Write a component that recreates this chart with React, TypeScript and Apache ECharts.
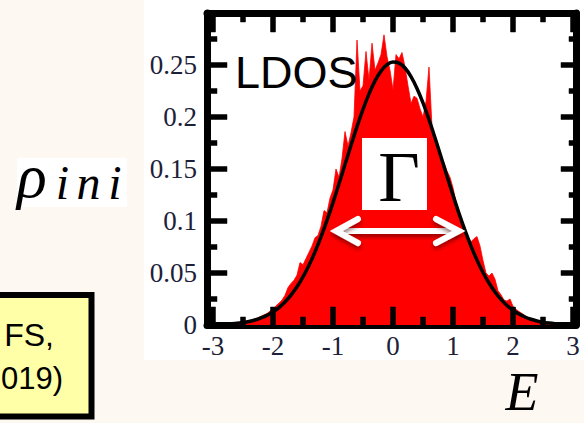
import React, { useEffect, useRef } from "react";
import * as echarts from "echarts";

const RED_E0 = -3;
const RED_STEP = 0.05;
const LDOS_VALUES = [
  0.0003, 0.0004, 0.0006, 0.0005, 0.0008, 0.001, 0.0012, 0.0011, 0.0018, 0.0024,
  0.0028, 0.0035, 0.0042, 0.005, 0.0058, 0.007, 0.0083, 0.0098, 0.011, 0.0135,
  0.015, 0.0185, 0.021, 0.024, 0.0285, 0.036, 0.04, 0.043, 0.048, 0.06,
  0.058, 0.064, 0.07, 0.076, 0.084, 0.086, 0.095, 0.11, 0.108, 0.122,
  0.13, 0.15, 0.142, 0.16, 0.186, 0.172, 0.185, 0.2, 0.274, 0.225,
  0.23, 0.263, 0.235, 0.271, 0.245, 0.252, 0.26, 0.279, 0.258, 0.245,
  0.226, 0.26, 0.256, 0.262, 0.248, 0.23, 0.213, 0.22, 0.218, 0.208,
  0.2, 0.215, 0.248, 0.19, 0.179, 0.172, 0.16, 0.156, 0.148, 0.142,
  0.132, 0.118, 0.108, 0.1, 0.093, 0.085, 0.08, 0.083, 0.085, 0.076,
  0.062, 0.05, 0.047, 0.05, 0.044, 0.033, 0.029, 0.024, 0.023, 0.025,
  0.018, 0.015, 0.013, 0.011, 0.009, 0.007, 0.006, 0.005, 0.004, 0.003,
  0.0025, 0.002, 0.0016, 0.0012, 0.001, 0.0008, 0.0007, 0.0005, 0.0004, 0.0003,
  0.0002,
];

const FIT_E0 = -3;
const FIT_STEP = 0.1;
const FIT_VALUES = [
  0.0003, 0.0005, 0.0007, 0.0011, 0.0016, 0.0024, 0.0034, 0.0048, 0.0068, 0.0093,
  0.0126, 0.0168, 0.0221, 0.0287, 0.0367, 0.0463, 0.0574, 0.0703, 0.0847, 0.1006,
  0.1177, 0.1358, 0.1543, 0.1728, 0.1907, 0.2074, 0.2222, 0.2347, 0.2441, 0.2503,
  0.2529, 0.2518, 0.2471, 0.2388, 0.2275, 0.2136, 0.1975, 0.1801, 0.1617, 0.1431,
  0.1249, 0.1073, 0.0909, 0.0758, 0.0624, 0.0505, 0.0404, 0.0318, 0.0246, 0.0188,
  0.0142, 0.0105, 0.0077, 0.0055, 0.0039, 0.0027, 0.0019, 0.0013, 0.0009, 0.0006,
  0.0004,
];

const X_MAJOR = [-3, -2, -1, 0, 1, 2, 3];
const X_MINOR = [-2.5, -1.5, -0.5, 0.5, 1.5, 2.5];
const Y_MAJOR = [0.05, 0.1, 0.15, 0.2, 0.25];
const Y_MINOR = [0.025, 0.075, 0.125, 0.175, 0.225, 0.275];
const Y_LABELS = ["0", "0.05", "0.1", "0.15", "0.2", "0.25"];

const X_MIN = -3.1;
const X_MAX = 3.05;
const Y_MIN = 0;
const Y_MAX = 0.3;

const LABEL_COLOR = "#1c2138";
const SERIF = "Liberation Serif";
const SANS = "Liberation Sans";

export default function App() {
  const ref = useRef<HTMLDivElement>(null);

  useEffect(() => {
    if (!ref.current) return;
    const chart = echarts.init(ref.current, null, { renderer: "svg" });

    const redData = LDOS_VALUES.map((v, i) => [+(RED_E0 + i * RED_STEP).toFixed(2), v]);
    const fitData = FIT_VALUES.map((v, i) => [+(FIT_E0 + i * FIT_STEP).toFixed(2), v]);

    const frameLine = { show: true, onZero: false, lineStyle: { color: "#000", width: 7 } };

    const xAxisBase = (position: "top" | "bottom", showLabel: boolean) => ({
      type: "value",
      position,
      min: X_MIN,
      max: X_MAX,
      axisLine: frameLine,
      axisTick: { show: false },
      axisLabel: showLabel
        ? {
            show: true,
            customValues: X_MAJOR,
            margin: 7,
            fontFamily: SERIF,
            fontSize: 27,
            color: LABEL_COLOR,
            formatter: (v: number) => String(v),
          }
        : { show: false },
      splitLine: { show: false },
    });

    const yAxisBase = (position: "left" | "right", showLabel: boolean) => ({
      type: "value",
      position,
      min: Y_MIN,
      max: Y_MAX,
      interval: 0.05,
      axisLine: frameLine,
      axisTick: { show: false },
      minorTick: { show: false },
      axisLabel: showLabel
        ? {
            show: true,
            margin: 10,
            fontFamily: SERIF,
            fontSize: 27,
            color: LABEL_COLOR,
            formatter: (v: number) => {
              const idx = Math.round(v / 0.05);
              return idx < Y_LABELS.length ? Y_LABELS[idx] : "";
            },
          }
        : { show: false },
      splitLine: { show: false },
      minorSplitLine: { show: false },
    });

    const arrowStyle = {
      stroke: "#ffffff",
      lineWidth: 6,
      lineCap: "round",
      lineJoin: "miter",
      fill: null,
      shadowColor: "rgba(60,0,0,0.55)",
      shadowBlur: 4,
      shadowOffsetY: 3,
    };

    const iStyle = {
      fontFamily: SERIF,
      fontStyle: "italic",
      fontSize: 48,
      fill: "#000",
      align: "center",
      padding: [12, 0, 0, 0],
    };

    const baseGraphic: any[] = [
      {
        type: "rect",
        z: 100,
        shape: { x: -10, y: 295, width: 101.5, height: 121.5 },
        style: { fill: "#ffffa8", stroke: "#000", lineWidth: 6 },
      },
      {
        type: "text",
        z: 101,
        x: 54,
        y: 335,
        style: { text: "FS,", fontFamily: SANS, fontSize: 32, fill: "#000", align: "right", verticalAlign: "middle" },
      },
      {
        type: "text",
        z: 101,
        x: 63,
        y: 378,
        style: { text: "019)", fontFamily: SANS, fontSize: 31, fill: "#000", align: "right", verticalAlign: "middle" },
      },
      {
        type: "rect",
        z: 100,
        shape: { x: 17, y: 158, width: 110, height: 49 },
        style: { fill: "#ffffff" },
      },
      {
        type: "text",
        z: 101,
        x: 17,
        y: 176,
        style: {
          text: "{r|ρ}{s|i}{n|n}{t|i}",
          verticalAlign: "middle",
          fill: "#000",
          rich: {
            r: { fontFamily: SERIF, fontStyle: "italic", fontSize: 62, fill: "#000", width: 36 },
            s: { ...iStyle, width: 19 },
            n: { ...iStyle, width: 33 },
            t: { ...iStyle, width: 20 },
          },
        },
      },
      {
        type: "text",
        z: 101,
        x: 235,
        y: 72,
        style: { text: "LDOS", fontFamily: SANS, fontSize: 45, fill: "#000", align: "left", verticalAlign: "middle" },
      },
      {
        type: "rect",
        z: 100,
        shape: { x: 362, y: 138, width: 65, height: 72 },
        style: { fill: "#ffffff" },
      },
      {
        type: "text",
        z: 101,
        x: 399,
        y: 177,
        style: { text: "Γ", fontFamily: SERIF, fontSize: 72, fill: "#000", align: "center", verticalAlign: "middle" },
      },
      {
        type: "rect",
        z: 100,
        shape: { x: 338, y: 228, width: 120, height: 6 },
        style: { fill: "#ffffff", shadowColor: "rgba(60,0,0,0.55)", shadowBlur: 4, shadowOffsetY: 3 },
      },
      { type: "polyline", z: 100, shape: { points: [[358, 219], [336, 231], [358, 243]] }, style: arrowStyle },
      { type: "polyline", z: 100, shape: { points: [[436, 219], [459, 231], [436, 243]] }, style: arrowStyle },
      {
        type: "text",
        z: 101,
        x: 522,
        y: 392,
        style: {
          text: "E",
          fontFamily: SERIF,
          fontStyle: "italic",
          fontSize: 54,
          fill: "#000",
          align: "center",
          verticalAlign: "middle",
        },
      },
    ];

    chart.setOption({
      animation: false,
      backgroundColor: "transparent",
      grid: { left: 207, right: 8, top: 13, bottom: 98, containLabel: false },
      xAxis: [xAxisBase("bottom", true), xAxisBase("top", false)],
      yAxis: [yAxisBase("left", true), yAxisBase("right", false)],
      series: [
        {
          type: "line",
          xAxisIndex: 0,
          yAxisIndex: 0,
          data: redData,
          symbol: "none",
          lineStyle: { color: "#ff0000", width: 0.8 },
          areaStyle: { color: "#ff0000", opacity: 1 },
          z: 1,
        },
        {
          type: "line",
          xAxisIndex: 0,
          yAxisIndex: 0,
          data: fitData,
          symbol: "none",
          smooth: 0.3,
          lineStyle: { color: "#000", width: 3.5 },
          z: 3,
        },
      ],
      graphic: baseGraphic,
    });

    // tick marks placed through the chart's own scales (convertToPixel), as polygons
    const px = (x: number, y: number) => chart.convertToPixel({ gridIndex: 0 }, [x, y]) as number[];
    const tick = (x1: number, y1: number, x2: number, y2: number) => ({
      type: "polygon",
      z: 110,
      shape: {
        points: [
          [x1, y1],
          [x2, y1],
          [x2, y2],
          [x1, y2],
        ],
      },
      style: { fill: "#000000", stroke: "#000000", lineWidth: 0.5 },
    });
    const ticks: any[] = [];
    const xTicks = (values: number[], lb: number, lt: number) =>
      values.forEach((v) => {
        const b = px(v, Y_MIN);
        const t = px(v, Y_MAX);
        ticks.push(tick(b[0] - 2.5, b[1], b[0] + 2.5, b[1] - lb));
        ticks.push(tick(t[0] - 2.5, t[1], t[0] + 2.5, t[1] + lt));
      });
    const yTicks = (values: number[], ll: number, lr: number) =>
      values.forEach((v) => {
        const l = px(X_MIN, v);
        const r = px(X_MAX, v);
        ticks.push(tick(l[0], l[1] - 2.5, l[0] + ll, l[1] + 2.5));
        ticks.push(tick(r[0] - lr, r[1] - 2.5, r[0], r[1] + 2.5));
      });
    xTicks(X_MAJOR, 18, 19);
    xTicks(X_MINOR, 8, 9);
    yTicks(Y_MAJOR, 20, 15);
    yTicks(Y_MINOR, 10, 7);

    chart.setOption({ graphic: [...baseGraphic, ...ticks] }, { replaceMerge: ["graphic"] });

    return () => chart.dispose();
  }, []);

  return (
    <div style={{ position: "fixed", left: 0, top: 0, width: 584, height: 423, background: "#fdf8f2", overflow: "hidden" }}>
      <div style={{ position: "absolute", left: 144, top: 0, width: 440, height: 360, background: "#ffffff" }} />
      <div ref={ref} style={{ position: "absolute", left: 0, top: 0, width: 584, height: 423 }} />
    </div>
  );
}
